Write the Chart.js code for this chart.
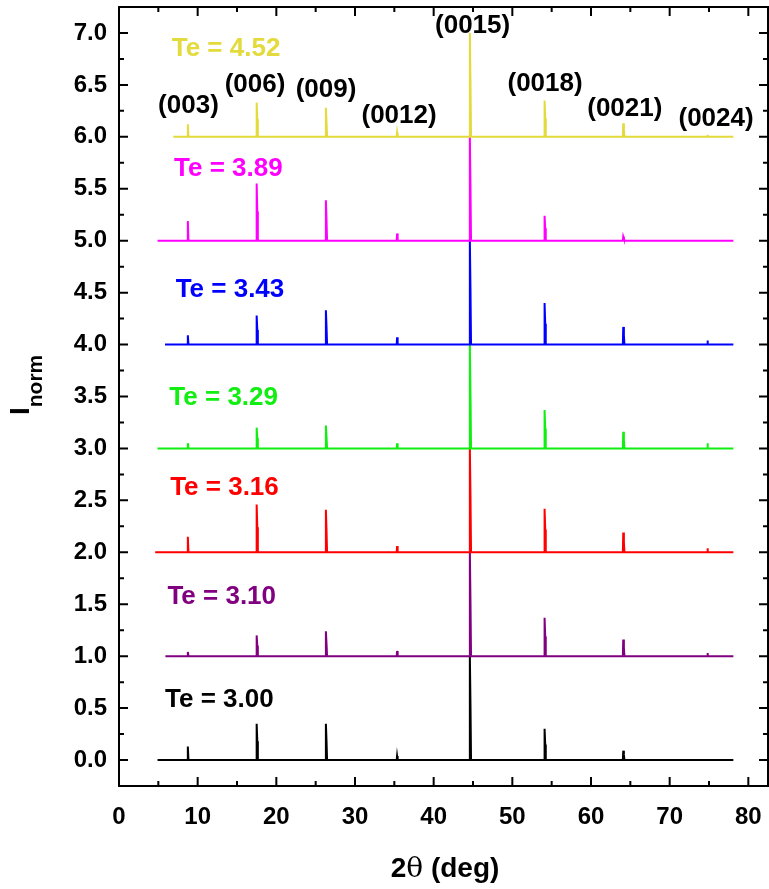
<!DOCTYPE html>
<html>
<head>
<meta charset="utf-8">
<script src="https://cdn.jsdelivr.net/npm/chart.js@4.4.1/dist/chart.umd.min.js"></script>
<style>
  html,body{margin:0;padding:0;background:#fff;}
  #wrap{width:769px;height:889px;}
</style>
</head>
<body>
<div id="wrap"><canvas id="xrd" width="769" height="889"></canvas></div>
<script>
// === data ===
// shared 2theta grid: start, then each reflection (rise, top, Ka2 shoulder, back), end
const twoTheta = [5.0,
  8.7, 8.75, 8.83,
  17.45, 17.5, 17.58, 17.65,
  26.25, 26.3, 26.38, 26.45,
  35.3, 35.35, 35.42,
  44.55, 44.6, 44.68, 44.75,
  54.05, 54.1, 54.18, 54.25,
  64.05, 64.1, 64.18, 64.25,
  74.75, 74.8, 74.87,
  78.1];
// where each trace begins on the left
const startX = [6.9, 4.9, 5.85, 4.9, 4.6, 5.9, 4.9];

const teLabels = ["Te = 4.52", "Te = 3.89", "Te = 3.43", "Te = 3.29", "Te = 3.16", "Te = 3.10", "Te = 3.00"];
const offsets  = [6, 5, 4, 3, 2, 1, 0];

const iTe452 = [0, 0,0.12,0, 0,0.33,0.17,0, 0,0.28,0.14,0, 0,0.04,0, 0,1.00,0.52,0, 0,0.35,0.18,0, 0,0.13,0.07,0, 0,0.02,0, 0];
const iTe389 = [0, 0,0.19,0, 0,0.55,0.28,0, 0,0.39,0.20,0, 0,0.07,0, 0,1.00,0.52,0, 0,0.24,0.12,0, 0,0.04,0.02,0, 0,0.01,0, 0];
const iTe343 = [0, 0,0.09,0, 0,0.28,0.14,0, 0,0.33,0.17,0, 0,0.07,0, 0,1.00,0.53,0, 0,0.40,0.20,0, 0,0.17,0.09,0, 0,0.04,0, 0];
const iTe329 = [0, 0,0.05,0, 0,0.20,0.10,0, 0,0.22,0.11,0, 0,0.05,0, 0,1.00,0.53,0, 0,0.37,0.19,0, 0,0.16,0.08,0, 0,0.05,0, 0];
const iTe316 = [0, 0,0.15,0, 0,0.46,0.24,0, 0,0.41,0.21,0, 0,0.06,0, 0,1.00,0.55,0, 0,0.42,0.22,0, 0,0.19,0.10,0, 0,0.04,0, 0];
const iTe310 = [0, 0,0.04,0, 0,0.20,0.10,0, 0,0.24,0.12,0, 0,0.05,0, 0,1.00,0.53,0, 0,0.37,0.19,0, 0,0.16,0.08,0, 0,0.03,0, 0];
const iTe300 = [0, 0,0.13,0, 0,0.35,0.18,0, 0,0.35,0.18,0, 0,0.04,0, 0,1.00,0.53,0, 0,0.30,0.15,0, 0,0.09,0.05,0, 0,0.01,0, 0];
const series = [iTe452, iTe389, iTe343, iTe329, iTe316, iTe310, iTe300];

// reflections labelled above the top trace
const hklNames = ["(003)", "(006)", "(009)", "(0012)", "(0015)", "(0018)", "(0021)", "(0024)"];
const hklPos   = [8.83, 17.29, 26.32, 35.6, 44.95, 54.16, 64.3, 75.9];
const hklY     = [6.23, 6.43, 6.38, 6.13, 7.00, 6.44, 6.20, 6.10];

const xTicks = [0, 10, 20, 30, 40, 50, 60, 70, 80];
const yTicks = [0, 0.5, 1, 1.5, 2, 2.5, 3, 3.5, 4, 4.5, 5, 5.5, 6, 6.5, 7];

// === styles ===
const colors = ["#e3db3d", "#ff00ff", "#0000ff", "#11ee11", "#ff0000", "#800080", "#000000"];
// label anchor (left x, baseline y) in data units
const teLabelAt = [[6.7,6.78],[7.0,5.62],[7.2,4.46],[6.4,3.42],[6.5,2.55],[6.15,1.50],[5.85,0.51]];
const FONT = '"Liberation Sans", Arial, sans-serif';

const datasets = series.map((ys, k) => ({
  label: teLabels[k],
  data: ys.map((v, i) => ({x: i === 0 ? startX[k] : twoTheta[i], y: v + offsets[k]})),
  borderColor: colors[k],
  borderWidth: 2,
  pointRadius: 0,
  tension: 0,
  fill: false
}));

// inward ticks on all four sides, frame, annotations, axis titles
const decor = {
  id: "decor",
  afterDraw(chart){
    const {ctx, chartArea: a, scales: {x, y}} = chart;
    ctx.save();
    ctx.strokeStyle = "#000";
    ctx.lineWidth = 2;
    ctx.strokeRect(a.left, a.top, a.right - a.left, a.bottom - a.top);
    ctx.beginPath();
    for (let v = 5; v <= 80; v += 5){
      const px = x.getPixelForValue(v);
      const L = v % 10 === 0 ? 9 : 5;
      ctx.moveTo(px, a.bottom); ctx.lineTo(px, a.bottom - L);
      ctx.moveTo(px, a.top); ctx.lineTo(px, a.top + L);
    }
    for (let v = 0; v < 7.25; v += 0.25){
      const py = y.getPixelForValue(v);
      const L = Math.abs(v*2 - Math.round(v*2)) < 1e-6 ? 9 : 5;
      ctx.moveTo(a.left, py); ctx.lineTo(a.left + L, py);
      ctx.moveTo(a.right, py); ctx.lineTo(a.right - L, py);
    }
    ctx.stroke();

    // Te labels
    ctx.font = "bold 26px " + FONT;
    ctx.textAlign = "left";
    ctx.textBaseline = "alphabetic";
    teLabels.forEach((t, k) => {
      ctx.fillStyle = colors[k];
      ctx.fillText(t, x.getPixelForValue(teLabelAt[k][0]), y.getPixelForValue(teLabelAt[k][1]));
    });

    // hkl labels
    ctx.fillStyle = "#000";
    ctx.textAlign = "center";
    hklNames.forEach((t, i) => {
      ctx.fillText(t, x.getPixelForValue(hklPos[i]), y.getPixelForValue(hklY[i]));
    });

    // x title: 2θ (deg)
    ctx.textAlign = "left";
    const f1 = "bold 28px " + FONT, f2 = "28px 'DejaVu Serif', 'Liberation Serif', serif";
    ctx.font = f1; const w2 = ctx.measureText("2").width, w3 = ctx.measureText(" (deg)").width;
    ctx.font = f2; const wt = ctx.measureText("θ").width;
    let sx = 445 - (w2 + wt + w3) / 2;
    const by = 877;
    ctx.font = f1; ctx.fillText("2", sx, by); sx += w2;
    ctx.font = f2; ctx.fillText("θ", sx, by); sx += wt;
    ctx.font = f1; ctx.fillText(" (deg)", sx, by);

    // y title: I_norm
    ctx.translate(29, 415);
    ctx.rotate(-Math.PI / 2);
    ctx.font = "bold 28px " + FONT;
    ctx.fillText("I", 0, 0);
    const wi = ctx.measureText("I").width;
    ctx.font = "bold 21px " + FONT;
    ctx.fillText("norm", wi, 13);
    ctx.restore();
  }
};

new Chart(document.getElementById("xrd"), {
  type: "line",
  data: {datasets},
  options: {
    responsive: false,
    devicePixelRatio: 1,
    animation: false,
    layout: {padding: {top: 7, right: 1, left: 0, bottom: 0}},
    plugins: {legend: {display: false}, tooltip: {enabled: false}},
    scales: {
      x: {
        type: "linear", min: 0, max: 82.5,
        afterBuildTicks: s => { s.ticks = xTicks.map(v => ({value: v})); },
        afterFit: s => { s.height = 103; s.paddingLeft = 0; s.paddingRight = 0; },
        grid: {display: false, drawTicks: false},
        border: {display: false},
        ticks: {color: "#000", font: {family: FONT, size: 24, weight: "bold"}, padding: 17, maxRotation: 0,
                callback: v => String(v)}
      },
      y: {
        type: "linear", min: -0.25, max: 7.25,
        afterBuildTicks: s => { s.ticks = yTicks.map(v => ({value: v})); },
        afterFit: s => { s.width = 119; s.paddingTop = 0; s.paddingBottom = 0; },
        grid: {display: false, drawTicks: false},
        border: {display: false},
        ticks: {color: "#000", font: {family: FONT, size: 24, weight: "bold"}, padding: 12,
                callback: v => Number(v).toFixed(1)}
      }
    }
  },
  plugins: [decor]
});
</script>
</body>
</html>
